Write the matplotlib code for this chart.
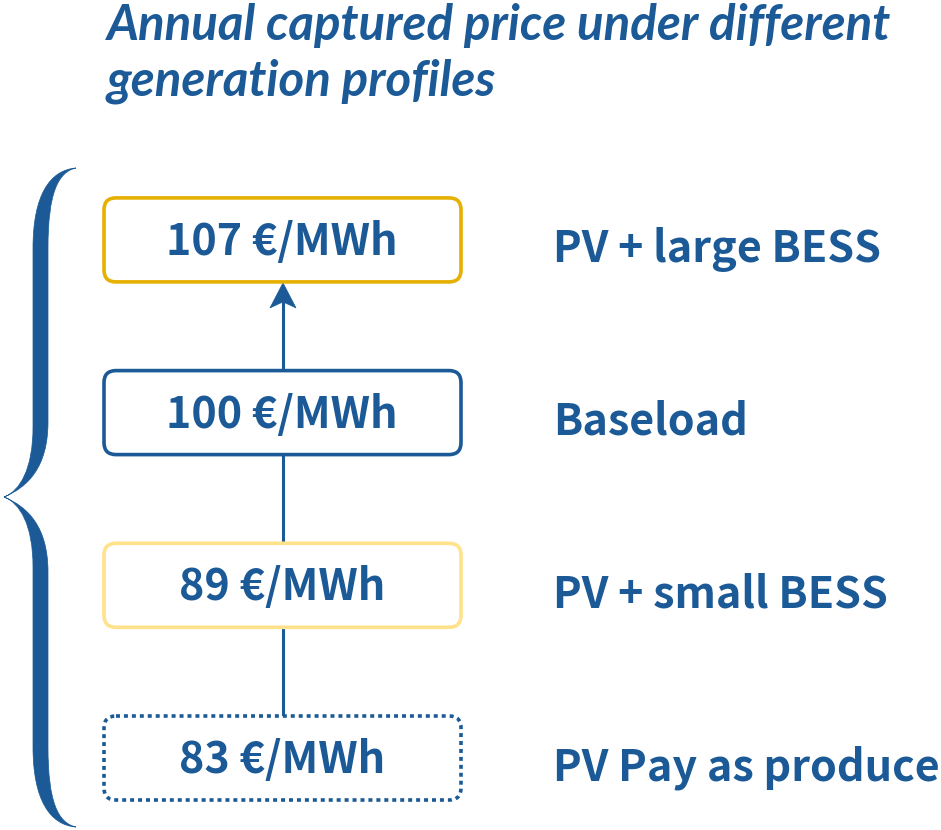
import matplotlib
matplotlib.use("Agg")
import matplotlib.pyplot as plt
from matplotlib.patches import FancyBboxPatch, PathPatch, Polygon
from matplotlib.path import Path

# ---- data ----
prices = [83, 89, 100, 107]
unit = "€/MWh"
profiles = ["PV Pay as produce", "PV + small BESS", "Baseload", "PV + large BESS"]
edge_colors = ["#1B5A96", "#FFE28A", "#1B5A96", "#E6B000"]
edge_styles = ["dotted", "solid", "solid", "solid"]
title_lines = ["Annual captured price under different", "generation profiles"]

BLUE = "#1B5A96"
FONT = ["Noto Sans CJK SC", "DejaVu Sans"]
TFONT = ["Lato", "DejaVu Sans"]

W, H = 941, 830
fig = plt.figure(figsize=(W / 100, H / 100), dpi=100)
ax = fig.add_axes([0, 0, 1, 1])
ax.set_xlim(0, W)
ax.set_ylim(H, 0)
ax.axis("off")

# title
for k, line in enumerate(title_lines):
    ax.text(107, 40 + 55 * k, line, fontsize=35.5, fontweight="bold", style="italic",
            color=BLUE, family=TFONT, ha="left", va="baseline")

# layout
box_x0, box_x1 = 104, 461
box_h = 84
y_bottom, step = 758, 172.7
centers = [y_bottom - i * step for i in range(len(prices))]
xc = (box_x0 + box_x1) / 2 - 0.5
ax_x = 283

# connecting line + arrowhead (behind boxes)
y_tip = centers[-1] + box_h / 2 + 1
ax.plot([ax_x, ax_x], [centers[0] - box_h / 2, y_tip + 15], color=BLUE, lw=2.2,
        zorder=1, solid_capstyle="butt")
ax.add_patch(Polygon([(ax_x, y_tip), (ax_x - 13, y_tip + 25), (ax_x, y_tip + 19),
                      (ax_x + 13, y_tip + 25)], closed=True, fc=BLUE, ec=BLUE,
                     lw=0.5, zorder=1))

for i, (p, lab, ec, ls) in enumerate(zip(prices, profiles, edge_colors, edge_styles)):
    yc = centers[i]
    pad = 12
    box = FancyBboxPatch((box_x0 + pad, yc - box_h / 2 + pad),
                         box_x1 - box_x0 - 2 * pad, box_h - 2 * pad,
                         boxstyle=f"round,pad={pad}", fc="white", ec=ec,
                         lw=2.6, zorder=2,
                         linestyle=(0, (1.1, 1.1)) if ls == "dotted" else "solid")
    if ls == "dotted":
        box.set_capstyle("butt")
    ax.add_patch(box)
    ax.text(xc, yc + 15, f"{p} {unit}", fontsize=31, fontweight="bold", color=BLUE,
            family=FONT, ha="center", va="baseline", zorder=3)
    ax.text(553, yc + 22, lab, fontsize=31, fontweight="bold", color=BLUE,
            family=FONT, ha="left", va="baseline", zorder=3)

# curly brace
top, mid, bot = 168, 497, 827
def half(y0, ym, sgn):
    verts = [
        (76, y0),
        (50, y0 + sgn * 2), (33, y0 + sgn * 27), (33, y0 + sgn * 80),
        (33, ym - sgn * 70),
        (33, ym - sgn * 28), (20, ym - sgn * 6), (4, ym),
        (28, ym - sgn * 10), (48, ym - sgn * 30), (48, ym - sgn * 75),
        (48, y0 + sgn * 80),
        (48, y0 + sgn * 25), (58, y0 + sgn * 4), (76, y0),
    ]
    codes = [Path.MOVETO, Path.CURVE4, Path.CURVE4, Path.CURVE4, Path.LINETO,
             Path.CURVE4, Path.CURVE4, Path.CURVE4,
             Path.CURVE4, Path.CURVE4, Path.CURVE4, Path.LINETO,
             Path.CURVE4, Path.CURVE4, Path.CURVE4]
    return Path(verts, codes)

for y0, sgn in [(top, 1), (bot, -1)]:
    ax.add_patch(PathPatch(half(y0, mid, sgn), fc=BLUE, ec=BLUE, lw=0.5))

fig.savefig("out.png", dpi=100)
